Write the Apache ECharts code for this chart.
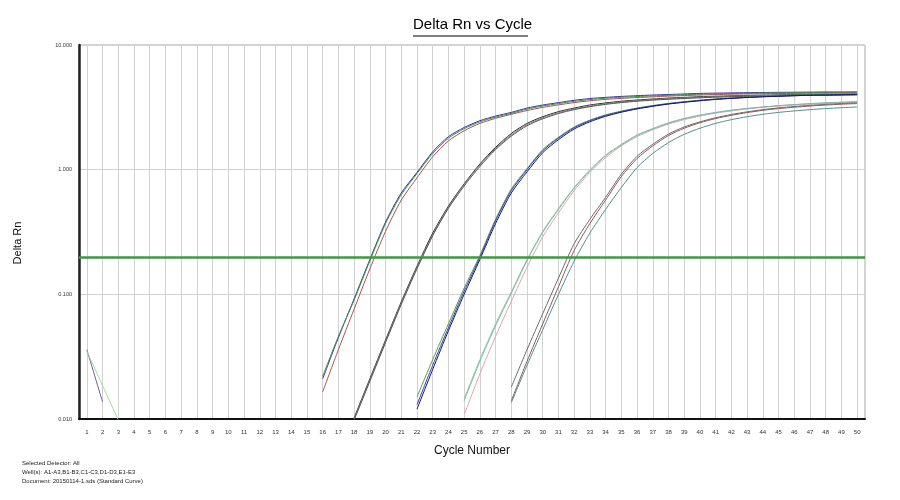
<!DOCTYPE html>
<html>
<head>
<meta charset="utf-8">
<title>Delta Rn vs Cycle</title>
<script src="https://cdn.jsdelivr.net/npm/echarts@6/dist/echarts.min.js"></script>
</head>
<body style="margin:0;background:#fff">
<div id="main" style="width:900px;height:500px;"></div>
<script type="text/javascript">
// cycle numbers on the x axis
var cycles = [1, 2, 3, 4, 5, 6, 7, 8, 9, 10, 11, 12, 13, 14, 15, 16, 17, 18, 19, 20,
  21, 22, 23, 24, 25, 26, 27, 28, 29, 30, 31, 32, 33, 34, 35, 36, 37, 38, 39, 40,
  41, 42, 43, 44, 45, 46, 47, 48, 49, 50];
var yTicks = [0.01, 0.1, 1, 10];
var threshold = 0.2;

// Delta Rn per well, first number = first cycle shown above 0.010
var wellA1 = [16, 0.021, 0.045, 0.092, 0.19, 0.38, 0.65, 0.95, 1.39, 1.84, 2.18, 2.47, 2.69, 2.88, 3.12, 3.30, 3.45, 3.60, 3.72, 3.80, 3.87, 3.92, 3.97, 4.01, 4.05, 4.09, 4.11, 4.13, 4.15, 4.16, 4.17, 4.18, 4.19, 4.20, 4.20, 4.21];
var wellA2 = [16, 0.022, 0.046, 0.090, 0.185, 0.37, 0.63, 0.93, 1.35, 1.79, 2.13, 2.42, 2.64, 2.83, 3.06, 3.24, 3.39, 3.53, 3.65, 3.74, 3.81, 3.86, 3.91, 3.95, 3.99, 4.03, 4.06, 4.08, 4.10, 4.12, 4.13, 4.14, 4.15, 4.16, 4.16, 4.17];
var wellA3 = [16, 0.0165, 0.036, 0.076, 0.16, 0.32, 0.57, 0.86, 1.27, 1.70, 2.05, 2.35, 2.58, 2.78, 2.98, 3.16, 3.31, 3.45, 3.57, 3.66, 3.73, 3.79, 3.84, 3.89, 3.93, 3.97, 4.00, 4.03, 4.05, 4.07, 4.08, 4.09, 4.10, 4.11, 4.12, 4.12];
var wellB1 = [18, 0.0102, 0.021, 0.043, 0.087, 0.168, 0.31, 0.51, 0.77, 1.11, 1.51, 1.95, 2.35, 2.66, 2.92, 3.12, 3.30, 3.43, 3.54, 3.62, 3.69, 3.75, 3.80, 3.85, 3.88, 3.91, 3.94, 3.96, 3.98, 4.00, 4.01, 4.02, 4.03, 4.04];
var wellB2 = [18, 0.0100, 0.0205, 0.042, 0.085, 0.164, 0.30, 0.50, 0.76, 1.09, 1.48, 1.90, 2.30, 2.61, 2.87, 3.07, 3.24, 3.38, 3.49, 3.58, 3.65, 3.71, 3.76, 3.81, 3.85, 3.88, 3.91, 3.93, 3.95, 3.97, 3.98, 3.99, 4.00, 4.01];
var wellB3 = [18, 0.0098, 0.020, 0.041, 0.083, 0.160, 0.295, 0.49, 0.74, 1.06, 1.45, 1.86, 2.25, 2.56, 2.82, 3.03, 3.20, 3.34, 3.45, 3.54, 3.61, 3.67, 3.72, 3.77, 3.81, 3.84, 3.87, 3.89, 3.91, 3.93, 3.94, 3.95, 3.96, 3.97];
var wellC1 = [22, 0.015, 0.030, 0.058, 0.112, 0.205, 0.40, 0.70, 1.02, 1.45, 1.82, 2.20, 2.50, 2.75, 2.95, 3.12, 3.27, 3.40, 3.51, 3.61, 3.69, 3.76, 3.82, 3.87, 3.91, 3.94, 3.97, 3.99, 4.01, 4.02];
var wellC2 = [22, 0.013, 0.027, 0.054, 0.106, 0.198, 0.39, 0.68, 1.00, 1.42, 1.79, 2.17, 2.47, 2.72, 2.92, 3.10, 3.25, 3.38, 3.49, 3.59, 3.67, 3.74, 3.80, 3.85, 3.89, 3.92, 3.95, 3.97, 3.99, 4.00];
var wellC3 = [22, 0.012, 0.025, 0.051, 0.100, 0.190, 0.37, 0.65, 0.96, 1.37, 1.74, 2.12, 2.42, 2.68, 2.89, 3.07, 3.22, 3.36, 3.47, 3.57, 3.66, 3.73, 3.79, 3.84, 3.88, 3.92, 3.95, 3.97, 3.99, 4.01];
var wellD1 = [25, 0.0146, 0.030, 0.058, 0.105, 0.19, 0.32, 0.49, 0.72, 1.00, 1.31, 1.60, 1.90, 2.14, 2.38, 2.58, 2.74, 2.88, 3.00, 3.10, 3.18, 3.25, 3.31, 3.36, 3.40, 3.44, 3.47];
var wellD2 = [25, 0.0108, 0.023, 0.046, 0.088, 0.165, 0.29, 0.45, 0.68, 0.95, 1.25, 1.55, 1.84, 2.09, 2.32, 2.52, 2.69, 2.84, 2.96, 3.07, 3.16, 3.24, 3.31, 3.37, 3.42, 3.46, 3.50];
var wellD3 = [25, 0.0140, 0.029, 0.056, 0.102, 0.186, 0.315, 0.48, 0.71, 0.98, 1.29, 1.58, 1.88, 2.12, 2.36, 2.56, 2.73, 2.87, 2.99, 3.09, 3.18, 3.26, 3.33, 3.39, 3.44, 3.48, 3.52];
var wellE1 = [28, 0.018, 0.036, 0.070, 0.135, 0.255, 0.40, 0.60, 0.92, 1.28, 1.60, 1.93, 2.20, 2.42, 2.61, 2.77, 2.91, 3.03, 3.13, 3.21, 3.28, 3.34, 3.39, 3.43];
var wellE2 = [28, 0.014, 0.029, 0.058, 0.115, 0.225, 0.37, 0.57, 0.88, 1.23, 1.55, 1.88, 2.15, 2.38, 2.57, 2.73, 2.87, 2.99, 3.09, 3.17, 3.24, 3.30, 3.35, 3.39];
var wellE3 = [28, 0.0135, 0.027, 0.052, 0.100, 0.185, 0.31, 0.48, 0.72, 1.04, 1.35, 1.65, 1.92, 2.15, 2.35, 2.52, 2.66, 2.78, 2.88, 2.96, 3.03, 3.09, 3.14, 3.18];
// early noise at cycles 1-3
var noise1 = [1, 0.036, 0.0137];
var noise2 = [1, 0.035, 0.0185, 0.0098];

var wells = [
  ['A1', wellA1, '#3232a6'], ['A2', wellA2, '#3d8f4a'], ['A3', wellA3, '#a4554c'],
  ['B1', wellB1, '#2a2a2a'], ['B2', wellB2, '#808080'], ['B3', wellB3, '#555555'],
  ['C1', wellC1, '#4aa24a'], ['C2', wellC2, '#3a3abb'], ['C3', wellC3, '#14146e'],
  ['D1', wellD1, '#8fd4a0'], ['D2', wellD2, '#e3a3ab'], ['D3', wellD3, '#80b2b2'],
  ['E1', wellE1, '#6b6b6b'], ['E2', wellE2, '#8a5a5a'], ['E3', wellE3, '#4f8f90'],
  ['n1', noise1, '#7a5a9a'], ['n2', noise2, '#96e096']
];

// put values on the right cycle, nothing before the first one
function toCycles(arr) {
  var out = [];
  for (var i = 0; i < cycles.length; i++) {
    var k = cycles[i] - arr[0] + 1;
    out.push(k >= 1 && k < arr.length ? arr[k] : null);
  }
  return out;
}

var series = wells.map(function (w) {
  return {
    name: w[0],
    type: 'line',
    data: toCycles(w[1]),
    showSymbol: false,
    smooth: 0.25,
    silent: true,
    lineStyle: { width: 1, color: w[2] },
    itemStyle: { color: w[2] }
  };
});
// threshold line
series.push({
  name: 'threshold',
  type: 'line',
  data: [],
  markLine: {
    silent: true,
    symbol: ['none', 'none'],
    label: { show: false },
    lineStyle: { color: '#3f993f', width: 2.5, type: 'solid' },
    data: [{ yAxis: threshold }]
  }
});

var myChart = echarts.init(document.getElementById('main'));
var option = {
  animation: false,
  textStyle: { fontFamily: 'Liberation Sans, Arial, sans-serif' },
  grid: { left: 79, right: 35, top: 45, bottom: 81, show: true, borderColor: '#a8a8a8', borderWidth: 1 },
  graphic: [
    { type: 'text', left: 413, top: 17, style: { text: 'Delta Rn vs Cycle', font: '15px Liberation Sans', fill: '#000' } },
    { type: 'line', shape: { x1: 413, y1: 36, x2: 528, y2: 36 }, style: { stroke: '#000', lineWidth: 1 } },
    { type: 'text', left: 22, top: 460, style: { text: 'Selected Detector: All', font: '6px Liberation Sans', fill: '#222' } },
    { type: 'text', left: 22, top: 469, style: { text: 'Well(s): A1-A3,B1-B3,C1-C3,D1-D3,E1-E3', font: '6px Liberation Sans', fill: '#222' } },
    { type: 'text', left: 22, top: 478, style: { text: 'Document: 20150114-1.sds (Standard Curve)', font: '6px Liberation Sans', fill: '#222' } }
  ],
  xAxis: {
    type: 'category',
    data: cycles,
    boundaryGap: true,
    name: 'Cycle Number',
    nameLocation: 'middle',
    nameGap: 26,
    nameTextStyle: { fontSize: 12, color: '#111' },
    axisLine: { lineStyle: { color: '#111', width: 2 } },
    axisTick: { show: false, alignWithLabel: true },
    axisLabel: { fontSize: 6, color: '#333', margin: 10, interval: 0 },
    splitLine: { show: true, alignWithLabel: true, interval: 0, lineStyle: { color: '#d2d2d2', width: 1 } }
  },
  yAxis: {
    type: 'log',
    logBase: 10,
    min: yTicks[0],
    max: yTicks[yTicks.length - 1],
    name: 'Delta Rn',
    nameLocation: 'middle',
    nameGap: 56,
    nameTextStyle: { fontSize: 11, color: '#111', padding: [0, 22, 0, 0] },
    axisLine: { show: true, lineStyle: { color: '#222', width: 2.5 } },
    axisTick: { show: false },
    minorTick: { show: false },
    axisLabel: { fontSize: 5.5, color: '#333', margin: 7, formatter: function (v) { return v.toFixed(3); } },
    splitLine: { show: true, lineStyle: { color: '#d2d2d2', width: 1 } }
  },
  series: series
};
myChart.setOption(option);
</script>
</body>
</html>
